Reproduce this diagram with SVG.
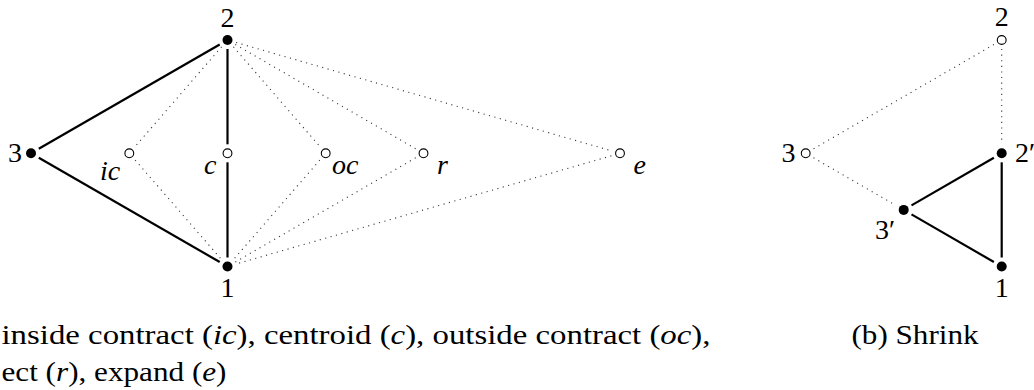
<svg xmlns="http://www.w3.org/2000/svg" width="1034" height="390" viewBox="0 0 1034 390">
<style>
.solid{stroke:#000;stroke-width:2.2;fill:none;stroke-linecap:butt}
.dot{stroke:#333;stroke-width:1.1;fill:none;stroke-dasharray:1.1 4.5}
.full{fill:#000}
.open{fill:#fff;stroke:#000;stroke-width:1.1}
.it{font-style:italic}
</style>
<rect width="1034" height="390" fill="#fff"/>
<g id="connectors">
<line class="solid" x1="38.8" y1="148.8" x2="219.7" y2="44.5"/>
<line class="solid" x1="38.8" y1="157.8" x2="219.7" y2="262"/>
<line class="solid" x1="227.5" y1="49" x2="227.5" y2="144.3"/>
<line class="solid" x1="227.5" y1="162.3" x2="227.5" y2="257.5"/>
<line class="dot" x1="221.6" y1="46.8" x2="135.2" y2="146.5"/>
<line class="dot" x1="135.2" y1="160.1" x2="221.6" y2="259.7"/>
<line class="dot" x1="233.4" y1="46.8" x2="319.8" y2="146.5"/>
<line class="dot" x1="319.8" y1="160.1" x2="233.4" y2="259.7"/>
<line class="dot" x1="235.3" y1="44.5" x2="415.7" y2="148.8"/>
<line class="dot" x1="415.7" y1="157.8" x2="235.3" y2="262"/>
<line class="dot" x1="236.1" y1="42.5" x2="611.4" y2="150.8"/>
<line class="dot" x1="611.4" y1="155.8" x2="236.1" y2="264"/>
<line class="dot" x1="993.9" y1="44.5" x2="813.5" y2="148.8"/>
<line class="dot" x1="1001.7" y1="49" x2="1001.7" y2="144.3"/>
<line class="dot" x1="813.5" y1="157.8" x2="895.9" y2="205.4"/>
<line class="solid" x1="993.9" y1="157.8" x2="911.5" y2="205.4"/>
<line class="solid" x1="911.5" y1="214.4" x2="993.9" y2="262"/>
<line class="solid" x1="1001.7" y1="162.3" x2="1001.7" y2="257.5"/>
</g>
<g font-family="'Liberation Serif', 'DejaVu Serif', serif" font-size="28" fill="#000">
<g id="a-node2"><circle class="full" cx="227.5" cy="40" r="5"/><text x="227.5" y="27" text-anchor="middle">2</text></g>
<g id="a-node3"><circle class="full" cx="31" cy="153.3" r="5"/><text x="22" y="162" text-anchor="end">3</text></g>
<g id="a-node1"><circle class="full" cx="227.5" cy="266.5" r="5"/><text x="227.5" y="297" text-anchor="middle">1</text></g>
<g id="a-ic"><circle class="open" cx="129.3" cy="153.3" r="4.4"/><text class="it" x="100" y="180">ic</text></g>
<g id="a-c"><circle class="open" cx="227.5" cy="153.3" r="4.4"/><text class="it" x="204" y="174">c</text></g>
<g id="a-oc"><circle class="open" cx="325.7" cy="153.3" r="4.4"/><text class="it" x="332" y="174">oc</text></g>
<g id="a-r"><circle class="open" cx="423.5" cy="153.3" r="4.4"/><text class="it" x="437" y="173.5">r</text></g>
<g id="a-e"><circle class="open" cx="620" cy="153.3" r="4.4"/><text class="it" x="633.5" y="174">e</text></g>
<g id="b-node2"><circle class="open" cx="1001.7" cy="40" r="4.4"/><text x="1001.7" y="26" text-anchor="middle">2</text></g>
<g id="b-node3"><circle class="open" cx="805.7" cy="153.3" r="4.4"/><text x="795.5" y="162" text-anchor="end">3</text></g>
<g id="b-node2p"><circle class="full" cx="1001.7" cy="153.3" r="5"/><text x="1015" y="162">2′</text></g>
<g id="b-node3p"><circle class="full" cx="903.7" cy="209.9" r="5"/><text x="875" y="239">3′</text></g>
<g id="b-node1"><circle class="full" cx="1001.7" cy="266.5" r="5"/><text x="1001.7" y="297" text-anchor="middle">1</text></g>
<g id="captions">
<text x="1.5" y="344" textLength="709" lengthAdjust="spacingAndGlyphs">inside contract (<tspan class="it">ic</tspan>), centroid (<tspan class="it">c</tspan>), outside contract (<tspan class="it">oc</tspan>),</text>
<text x="1.5" y="381" textLength="225" lengthAdjust="spacingAndGlyphs">ect (<tspan class="it">r</tspan>), expand (<tspan class="it">e</tspan>)</text>
<text x="851.5" y="344" textLength="127" lengthAdjust="spacingAndGlyphs">(b) Shrink</text>
</g>
</g>
</svg>
